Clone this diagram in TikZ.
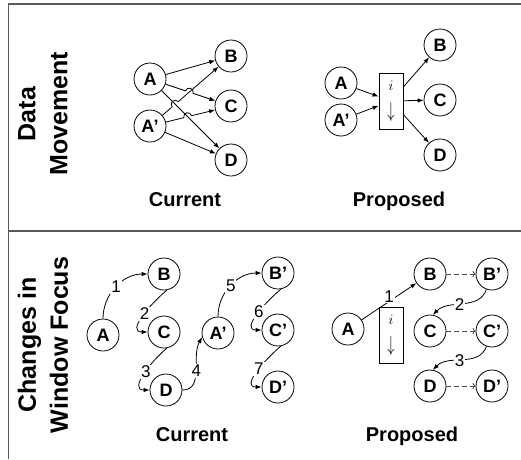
\documentclass[tikz,border=0pt]{standalone}
\usepackage{fontspec}
\setmainfont{Liberation Sans}
\usepackage{tikz}
\usetikzlibrary{calc,arrows.meta}
\newcommand*{\hopR}{4pt}
% arrow #1 -> #2 that jumps over the line #3--#4
\newcommand*{\hopline}[4]{%
    \coordinate (hp) at (intersection of #1--#2 and #3--#4);
    \draw [arr] let \p1=($(#2)-(#1)$), \n1={atan2(\y1,\x1)} in
        (#1) -- ($(hp)!\hopR!(#1)$) arc [start angle=\n1+180, end angle=\n1, radius=\hopR] -- (#2);
}
% the index box text
\newcommand*{\itext}{$i$\\[9pt]\scalebox{1}[1.5]{$\downarrow$}}

\begin{document}
\begin{tikzpicture}[x=1pt, y=1pt,
    circ/.style={draw, circle, line width=0.8pt, minimum size=32pt, inner sep=0pt, font=\bfseries\fontsize{18}{20}\selectfont},
    num/.style={fill=white, inner sep=1pt, font=\fontsize{17}{20}\selectfont},
    arr/.style={line width=0.8pt, -{Latex[length=6pt,width=4.5pt]}},
    dsh/.style={line width=0.8pt, gray!60!black, dash pattern=on 5pt off 3pt, -{To[length=3pt,width=6pt]}},
    ibox/.style={draw, line width=0.8pt, minimum width=24pt, minimum height=56pt, inner sep=0pt, align=center, font=\Large},
    ttl/.style={rotate=90, align=center, font=\bfseries\fontsize{25}{32}\selectfont},
    capt/.style={anchor=base, font=\bfseries\fontsize{20}{24}\selectfont},
    panel/.style={line width=1.2pt, gray!70!black}]

    \useasboundingbox (0,0) rectangle (521,-459);
    % table lines
    \draw [panel] (8.5,-459) -- (8.5,-4) -- (521,-4);
    \draw [panel] (8.5,-231) -- (521,-231);

    % row titles
    \node [ttl] (rowData) at (43,-114) {Data\\Movement};
    \node [ttl] (rowWin) at (43,-345) {Changes in\\Window Focus};

    %%%% data movement, current
    \node [circ] (dcA)  at (150,-79)  {A};
    \node [circ] (dcAp) at (150,-126) {A’};
    \node [circ] (dcB)  at (231,-56)  {B};
    \node [circ] (dcC)  at (231,-106) {C};
    \node [circ] (dcD)  at (231,-160) {D};
    \draw [arr] (dcA) -- (dcB);
    \draw [arr] (dcA) -- (dcD);
    \draw [arr] (dcAp) -- (dcD);
    \hopline{dcAp}{dcB}{dcA}{dcD}
    \hopline{dcA}{dcC}{dcAp}{dcB}
    \hopline{dcAp}{dcC}{dcA}{dcD}
    \node [capt] (dcCap) at (185,-206) {Current};

    %%%% data movement, proposed
    \node [circ] (dpA)  at (341,-83)  {A};
    \node [circ] (dpAp) at (341,-120) {A’};
    \node [circ] (dpB)  at (440,-45)  {B};
    \node [circ] (dpC)  at (440,-100) {C};
    \node [circ] (dpD)  at (440,-155) {D};
    \node [ibox] (dpI)  at (391,-101) {\itext};
    \foreach \n in {A,Ap} {
        \draw [arr] (dp\n) -- (dpI);
    }
    \foreach \n in {B,C,D} {
        \draw [arr] (dpI) -- (dp\n);
    }
    \node [capt] (dpCap) at (399,-206) {Proposed};

    %%%% window focus, current
    \node [circ] (wcA)  at (103,-335) {A};
    \node [circ] (wcB)  at (164,-274) {B};
    \node [circ] (wcC)  at (164,-332) {C};
    \node [circ] (wcD)  at (166,-390) {D};
    \node [circ] (wcAp) at (218,-333) {A’};
    \node [circ] (wcBp) at (278,-273) {B’};
    \node [circ] (wcCp) at (278,-330) {C’};
    \node [circ] (wcDp) at (278,-387) {D’};
    \draw [arr] (wcA) to [out=90, in=180] node [num] {1} (wcB);
    \draw [arr] (wcB.-80) to [out=-140, in=180, looseness=1.2] node [num, pos=0.45] {2} (wcC);
    \draw [arr] (wcC.-80) to [out=-140, in=180, looseness=1.2] node [num, pos=0.45] {3} (wcD);
    \draw [arr] (wcD) to [out=0, in=-120] node [num] {4} (wcAp.195);
    \draw [arr] (wcAp) to [out=90, in=180] node [num] {5} (wcBp);
    \draw [arr] (wcBp.-80) to [out=-140, in=180, looseness=1.2] node [num, pos=0.45] {6} (wcCp);
    \draw [arr] (wcCp.-80) to [out=-140, in=180, looseness=1.2] node [num, pos=0.45] {7} (wcDp);
    \node [capt] (wcCap) at (192,-441) {Current};

    %%%% window focus, proposed
    \node [circ] (wpA)  at (348,-329) {A};
    \node [circ] (wpB)  at (430,-274) {B};
    \node [circ] (wpC)  at (430,-331) {C};
    \node [circ] (wpD)  at (430,-386) {D};
    \node [circ] (wpBp) at (492,-274) {B’};
    \node [circ] (wpCp) at (492,-331) {C’};
    \node [circ] (wpDp) at (492,-386) {D’};
    \draw [arr] (wpA) -- node [num, yshift=5pt] {1} (wpB);
    \node [ibox] (wpI) at (391,-335) {\itext};
    \foreach \n in {B,C,D} {
        \draw [dsh] (wp\n) -- (wp\n p);
    }
    \draw [arr] (wpBp) to [out=-110, in=45] node [num, pos=0.55] {2} (wpC.80);
    \draw [arr] (wpCp) to [out=-110, in=45] node [num, pos=0.55] {3} (wpD.80);
    \node [capt] (wpCap) at (412,-441) {Proposed};
\end{tikzpicture}
\end{document}
